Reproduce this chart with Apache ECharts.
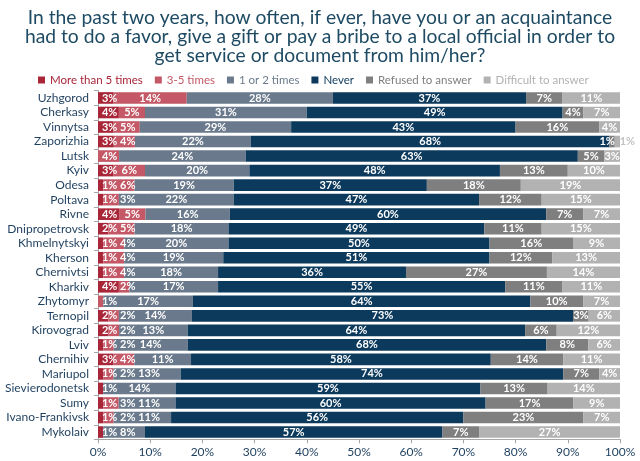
<!DOCTYPE html>
<html>
<head>
<meta charset="utf-8">
<script src="https://cdn.jsdelivr.net/npm/echarts@6/dist/echarts.min.js"></script>
<style>html,body{margin:0;padding:0;background:#fff}#c{width:640px;height:461px}</style>
</head>
<body>
<div id="c"></div>
<script>
const titleText = "In the past two years, how often, if ever, have you or an acquaintance\nhad to do a favor, give a gift or pay a bribe to a local official in order to\nget service or document from him/her?";
const cities = ["Uzhgorod","Cherkasy","Vinnytsa","Zaporizhia","Lutsk","Kyiv","Odesa","Poltava","Rivne","Dnipropetrovsk","Khmelnytskyi","Kherson","Chernivtsi","Kharkiv","Zhytomyr","Ternopil","Kirovograd","Lviv","Chernihiv","Mariupol","Sievierodonetsk","Sumy","Ivano-Frankivsk","Mykolaiv"];
const seriesNames = ["More than 5 times","3-5 times","1 or 2 times","Never","Refused to answer","Difficult to answer"];
const moreThan5 = [3,4,3,3,0,3,1,1,4,2,1,1,1,4,0,2,2,1,3,1,1,1,1,1];
const times3to5 = [14,5,5,4,4,6,6,3,5,5,4,4,4,2,1,2,2,2,4,2,0,3,2,0];
const times1or2 = [28,31,29,22,24,20,19,22,16,18,20,19,18,17,17,14,13,14,11,13,14,11,11,8];
const never = [37,49,43,68,63,48,37,47,60,49,50,51,36,55,64,73,64,68,58,74,59,60,56,57];
const refused = [7,4,16,1,5,13,18,12,7,11,16,12,27,11,10,3,6,8,14,7,13,17,23,7];
const difficult = [11,7,4,1,3,10,19,15,7,15,9,13,14,11,7,6,12,6,11,4,14,9,7,27];
const xTicks = [0,10,20,30,40,50,60,70,80,90,100];

const colors = ["#a92639","#c45866","#6a7a8c","#0c3a5d","#7f7f7f","#b2b2b2"];
const all = [moreThan5,times3to5,times1or2,never,refused,difficult];
const totals = cities.map((c,i)=>all.reduce((s,a)=>s+a[i],0));
const FONT = "Lato";

const GRID_LEFT = 98, GRID_RIGHT = 20, W = 640;
const PX = (W - GRID_LEFT - GRID_RIGHT) / 100;
// push narrow left-side labels rightwards so they don't collide (as in the reference)
const offsets = all.map(a=>a.map(()=>0));
cities.forEach((c,i)=>{
  let cum = 0, prevEnd = GRID_LEFT + 1;
  for(let k=0;k<4;k++){
    const raw = all[k][i], v = raw/totals[i]*100;
    if(raw>0){
      const w = String(raw).length*6.2 + 9;
      const center = GRID_LEFT + (cum + v/2)*PX;
      const minLeft = prevEnd + 3;
      let dx = 0;
      if(center - w/2 < minLeft) dx = minLeft - (center - w/2);
      offsets[k][i] = dx;
      prevEnd = center + dx + w/2;
    }
    cum += v;
  }
});
function itemLabel(k,i,v){
  if(k===4 && v<=1) return {offset:[-5,0]};
  if(k===5 && v<=1) return {offset:[10,0],color:'#c4c4c4'};
  return offsets[k][i] ? {offset:[offsets[k][i],0]} : {};
}

const chart = echarts.init(document.getElementById('c'), null, {renderer:'canvas'});
chart.setOption({
  animation:false,
  textStyle:{fontFamily:FONT},
  title:{text:titleText,left:'center',top:3,textStyle:{fontFamily:FONT,fontSize:19.3,fontWeight:'normal',color:'#1e4b63',lineHeight:19}},
  legend:{left:33,top:69,itemWidth:7,itemHeight:7,itemGap:12,icon:'rect',
    data:seriesNames.map((n,k)=>({name:n,textStyle:{color:colors[k]}})),
    textStyle:{fontFamily:FONT,fontSize:11.5}},
  grid:{left:GRID_LEFT,right:GRID_RIGHT,top:90.7,bottom:21.7,containLabel:false},
  xAxis:{type:'value',min:0,max:100,interval:10,
    axisLine:{show:true,lineStyle:{color:'#a6a6a6'}},
    axisTick:{show:true,length:4,lineStyle:{color:'#a6a6a6'}},
    splitLine:{show:false},
    axisLabel:{formatter:v=>v+'%',color:'#1e3f5e',fontSize:12,margin:7,fontFamily:FONT}},
  yAxis:{type:'category',data:cities,inverse:true,
    axisLine:{show:true,lineStyle:{color:'#a6a6a6'}},
    axisTick:{show:true,length:4,lineStyle:{color:'#a6a6a6'}},
    axisLabel:{interval:0,color:'#1e3f5e',fontSize:12,margin:9,fontFamily:FONT}},
  series:seriesNames.map((n,k)=>({
    name:n,type:'bar',stack:'t',barCategoryGap:'20%',
    itemStyle:{color:colors[k]},
    data:all[k].map((v,i)=>({value:v/totals[i]*100,raw:v,label:itemLabel(k,i,v)})),
    label:{show:true,position:'inside',color:'#fff',fontSize:11,fontWeight:'bold',fontFamily:FONT,
      overflow:'none',
      formatter:p=>p.data.raw>0?p.data.raw+'%':''}
  }))
});
</script>
</body>
</html>
